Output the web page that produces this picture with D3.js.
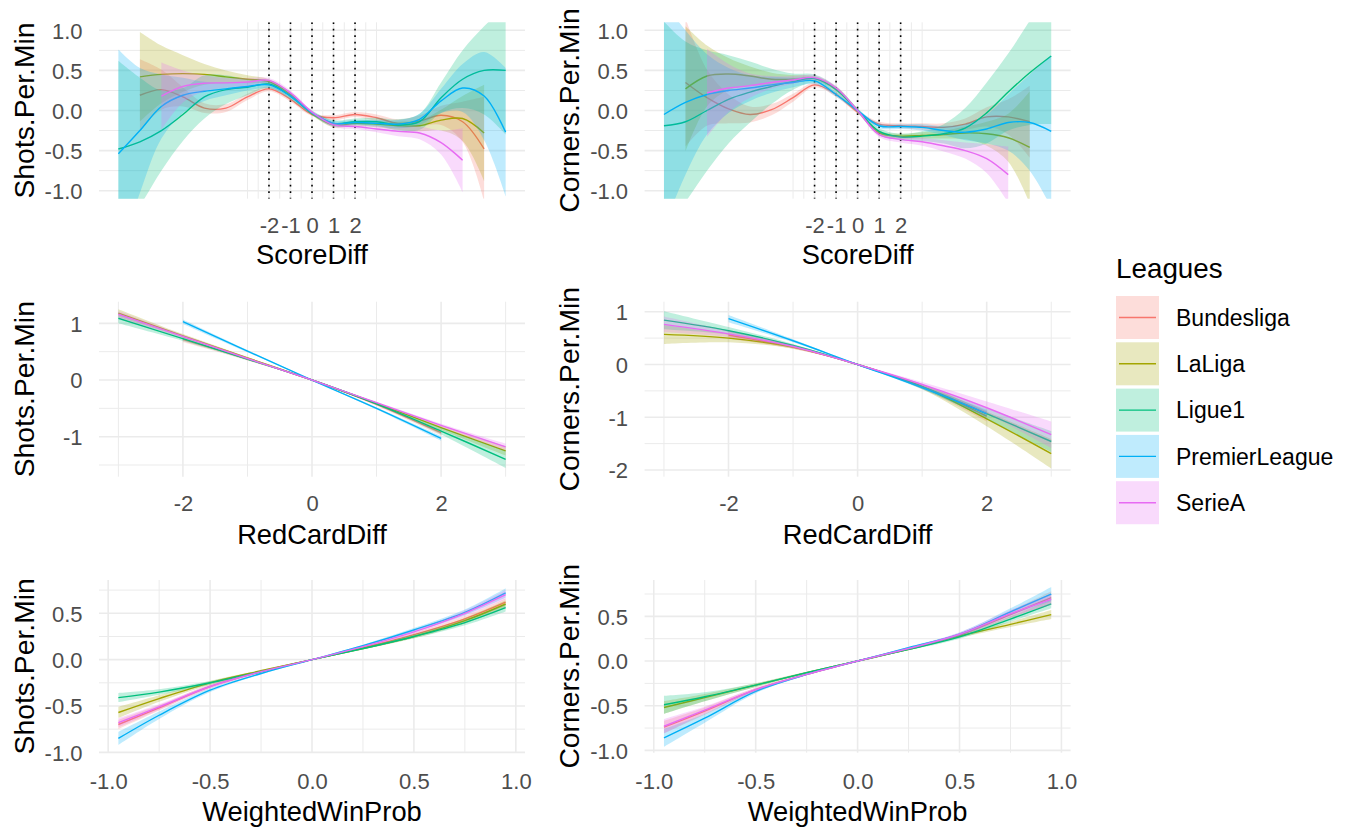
<!DOCTYPE html>
<html>
<head>
<meta charset="utf-8">
<script src="https://cdn.jsdelivr.net/npm/d3@7"></script>
<style>
  body { margin: 0; background: #fff; }
  text { font-family: "Liberation Sans", Arial, sans-serif; }
</style>
</head>
<body>
<svg id="chart" width="1355" height="831"></svg>
<script>
// leagues and ggplot hue colours
const leagues = ["Bundesliga", "LaLiga", "Ligue1", "PremierLeague", "SerieA"];
const leagueColors = ["#F8766D", "#A3A500", "#00BF7D", "#00B0F6", "#E76BF3"];

// ScoreDiff: first and last value seen per league
const scoreRange = [[-8, 8], [-8, 8], [-9, 9], [-9, 9], [-7, 7]];
const shotsByScore = [
  [0.19, 0.26, 0.17, 0.03, 0.03, 0.17, 0.27, 0.14, -0.05, -0.09, -0.05, -0.09, -0.16, -0.13, -0.06, -0.14, -0.48],
  [0.42, 0.45, 0.46, 0.45, 0.42, 0.39, 0.36, 0.2, -0.04, -0.18, -0.16, -0.17, -0.19, -0.19, -0.12, -0.1, -0.28],
  [-0.48, -0.39, -0.25, -0.05, 0.17, 0.26, 0.29, 0.33, 0.18, -0.03, -0.16, -0.14, -0.14, -0.18, -0.14, 0.16, 0.39, 0.5, 0.5],
  [-0.54, -0.25, 0.05, 0.19, 0.24, 0.27, 0.3, 0.32, 0.18, -0.03, -0.16, -0.15, -0.16, -0.17, -0.11, 0.12, 0.28, 0.18, -0.27],
  [0.18, 0.3, 0.34, 0.345, 0.355, 0.375, 0.22, -0.02, -0.18, -0.2, -0.23, -0.26, -0.28, -0.4, -0.62]
];
const shotsByScoreSE = [
  [0.45, 0.25, 0.12, 0.06, 0.05, 0.04, 0.03, 0.03, 0.02, 0.03, 0.03, 0.04, 0.05, 0.07, 0.12, 0.25, 0.65],
  [0.56, 0.36, 0.23, 0.13, 0.08, 0.05, 0.03, 0.03, 0.02, 0.03, 0.03, 0.04, 0.05, 0.07, 0.13, 0.28, 0.6],
  [1.1, 0.8, 0.5, 0.33, 0.27, 0.18, 0.1, 0.05, 0.04, 0.03, 0.04, 0.04, 0.05, 0.07, 0.1, 0.19, 0.36, 0.55, 0.8],
  [1.3, 0.78, 0.4, 0.22, 0.12, 0.08, 0.05, 0.04, 0.03, 0.02, 0.03, 0.03, 0.04, 0.05, 0.07, 0.15, 0.3, 0.55, 0.8],
  [0.42, 0.2, 0.1, 0.06, 0.05, 0.03, 0.03, 0.02, 0.03, 0.03, 0.04, 0.06, 0.08, 0.15, 0.4]
];
const cornersByScore = [
  [0.35, 0.16, 0.02, -0.05, 0.01, 0.16, 0.32, 0.2, -0.02, -0.17, -0.19, -0.2, -0.21, -0.17, -0.08, -0.08, -0.14],
  [0.27, 0.43, 0.455, 0.43, 0.39, 0.39, 0.4, 0.27, 0.0, -0.28, -0.32, -0.31, -0.3, -0.28, -0.29, -0.34, -0.46],
  [-0.19, -0.14, 0.0, 0.14, 0.23, 0.3, 0.36, 0.4, 0.26, 0.0, -0.26, -0.33, -0.32, -0.29, -0.22, -0.03, 0.23, 0.47, 0.68],
  [-0.05, 0.1, 0.2, 0.25, 0.28, 0.32, 0.35, 0.37, 0.2, 0.0, -0.19, -0.2, -0.21, -0.25, -0.27, -0.23, -0.15, -0.15, -0.26],
  [0.22, 0.28, 0.31, 0.35, 0.38, 0.41, 0.28, 0.0, -0.3, -0.36, -0.39, -0.44, -0.5, -0.6, -0.8]
];
const cornersByScoreSE = [
  [0.8, 0.35, 0.18, 0.1, 0.07, 0.05, 0.03, 0.03, 0.02, 0.03, 0.03, 0.04, 0.05, 0.07, 0.12, 0.22, 0.45],
  [0.78, 0.38, 0.2, 0.12, 0.08, 0.05, 0.03, 0.03, 0.02, 0.03, 0.03, 0.04, 0.05, 0.08, 0.15, 0.3, 0.7],
  [1.3, 1.0, 0.75, 0.55, 0.38, 0.22, 0.1, 0.05, 0.04, 0.03, 0.04, 0.04, 0.06, 0.12, 0.25, 0.38, 0.48, 0.65, 0.85],
  [1.4, 0.9, 0.5, 0.28, 0.16, 0.1, 0.06, 0.04, 0.03, 0.02, 0.03, 0.03, 0.04, 0.06, 0.1, 0.18, 0.35, 0.6, 0.95],
  [0.55, 0.3, 0.15, 0.08, 0.05, 0.03, 0.03, 0.02, 0.03, 0.04, 0.05, 0.07, 0.1, 0.18, 0.35]
];

// RedCardDiff
const redRange = [[-2, 2], [-3, 3], [-3, 3], [-2, 2], [-3, 3]];
const shotsByRed = [
  [0.72, 0.37, 0, -0.43, -0.93],
  [1.18, 0.78, 0.39, 0, -0.41, -0.84, -1.25],
  [1.09, 0.73, 0.37, 0, -0.42, -0.9, -1.4],
  [1.03, 0.51, 0, -0.5, -1.03],
  [1.16, 0.77, 0.38, 0, -0.4, -0.8, -1.18]
];
const shotsByRedSE = [
  [0.05, 0.025, 0.005, 0.025, 0.05],
  [0.07, 0.03, 0.015, 0.005, 0.015, 0.04, 0.08],
  [0.09, 0.04, 0.02, 0.005, 0.02, 0.06, 0.15],
  [0.04, 0.02, 0.005, 0.02, 0.04],
  [0.06, 0.03, 0.015, 0.005, 0.015, 0.03, 0.06]
];
const cornersByRed = [
  [0.56, 0.33, 0, -0.42, -0.98],
  [0.57, 0.5, 0.33, 0, -0.42, -1.03, -1.69],
  [0.84, 0.64, 0.36, 0, -0.42, -0.93, -1.46],
  [0.87, 0.45, 0, -0.44, -0.93],
  [0.76, 0.58, 0.34, 0, -0.38, -0.82, -1.33]
];
const cornersByRedSE = [
  [0.07, 0.03, 0.005, 0.04, 0.1],
  [0.18, 0.08, 0.03, 0.005, 0.05, 0.14, 0.28],
  [0.17, 0.07, 0.03, 0.005, 0.04, 0.1, 0.2],
  [0.07, 0.03, 0.005, 0.03, 0.07],
  [0.15, 0.06, 0.03, 0.005, 0.05, 0.12, 0.25]
];

// WeightedWinProb
const winProbX = [-0.95, -0.75, -0.5, -0.25, 0, 0.25, 0.5, 0.75, 0.95];
const shotsByWin = [
  [-0.7, -0.52, -0.29, -0.13, 0, 0.13, 0.27, 0.44, 0.62],
  [-0.57, -0.42, -0.25, -0.12, 0, 0.12, 0.25, 0.42, 0.6],
  [-0.41, -0.35, -0.25, -0.13, 0, 0.12, 0.25, 0.4, 0.56],
  [-0.85, -0.6, -0.33, -0.15, 0, 0.15, 0.32, 0.51, 0.72],
  [-0.68, -0.51, -0.29, -0.13, 0, 0.14, 0.3, 0.5, 0.7]
];
const shotsByWinSE = [
  [0.05, 0.03, 0.02, 0.01, 0.005, 0.01, 0.02, 0.03, 0.04],
  [0.06, 0.035, 0.02, 0.01, 0.005, 0.01, 0.02, 0.03, 0.04],
  [0.05, 0.03, 0.02, 0.01, 0.005, 0.01, 0.02, 0.03, 0.04],
  [0.07, 0.04, 0.02, 0.01, 0.005, 0.01, 0.02, 0.03, 0.05],
  [0.05, 0.03, 0.02, 0.01, 0.005, 0.01, 0.02, 0.03, 0.05]
];
const cornersByWin = [
  [-0.74, -0.56, -0.32, -0.15, 0, 0.14, 0.29, 0.52, 0.71],
  [-0.52, -0.41, -0.27, -0.13, 0, 0.13, 0.28, 0.41, 0.52],
  [-0.49, -0.4, -0.27, -0.13, 0, 0.13, 0.27, 0.47, 0.64],
  [-0.86, -0.64, -0.34, -0.15, 0, 0.15, 0.3, 0.55, 0.75],
  [-0.73, -0.55, -0.32, -0.15, 0, 0.14, 0.3, 0.53, 0.69]
];
const cornersByWinSE = [
  [0.07, 0.04, 0.02, 0.01, 0.005, 0.01, 0.02, 0.04, 0.07],
  [0.07, 0.04, 0.02, 0.01, 0.005, 0.01, 0.02, 0.03, 0.05],
  [0.1, 0.05, 0.02, 0.01, 0.005, 0.01, 0.02, 0.03, 0.05],
  [0.1, 0.05, 0.02, 0.01, 0.005, 0.01, 0.02, 0.04, 0.08],
  [0.08, 0.04, 0.02, 0.01, 0.005, 0.01, 0.02, 0.04, 0.06]
];

// ---- layout ----
const svg = d3.select("#chart");
const colLeft = [99, 644.6];
const panelW = 426;
const rowTop = [22.3, 301.7, 580];
const panelH = [176.4, 175, 172.7];
const tickGap = [34, 34, 36.6];     // panel bottom -> tick label baseline
const titleGap = [65.6, 67, 68];    // panel bottom -> axis title baseline
const tickSize = 22, xTitleSize = 27.3, yTitleSize = 28.3;
const fmt1 = v => d3.format(".1f")(v).replace("\u2212", "-");
const fmt0 = v => d3.format("d")(v).replace("\u2212", "-");

const scoreX = scoreRange.map(r => d3.range(r[0], r[1] + 1));
const redX = redRange.map(r => d3.range(r[0], r[1] + 1));
const winX = leagues.map(() => winProbX);

const panels = [
  {col: 0, row: 0, xs: scoreX, fit: shotsByScore, se: shotsByScoreSE, xDomain: [-9.9, 9.9], yDomain: [-1.1, 1.1],
   xTicks: [-2, -1, 0, 1, 2], xMinor: [-3, -2.5, -1.5, -0.5, 0.5, 1.5, 2.5, 3], yTicks: [-1, -0.5, 0, 0.5, 1],
   yMinor: [-0.75, -0.25, 0.25, 0.75], xFmt: fmt0, yFmt: fmt1, xTitle: "ScoreDiff", yTitle: "Shots.Per.Min", vlines: true},
  {col: 1, row: 0, xs: scoreX, fit: cornersByScore, se: cornersByScoreSE, xDomain: [-9.9, 9.9], yDomain: [-1.1, 1.1],
   xTicks: [-2, -1, 0, 1, 2], xMinor: [-3, -2.5, -1.5, -0.5, 0.5, 1.5, 2.5, 3], yTicks: [-1, -0.5, 0, 0.5, 1],
   yMinor: [-0.75, -0.25, 0.25, 0.75], xFmt: fmt0, yFmt: fmt1, xTitle: "ScoreDiff", yTitle: "Corners.Per.Min", vlines: true},
  {col: 0, row: 1, xs: redX, fit: shotsByRed, se: shotsByRedSE, xDomain: [-3.3, 3.3], yDomain: [-1.706, 1.382],
   xTicks: [-2, 0, 2], xMinor: [-3, -1, 1, 3], yTicks: [-1, 0, 1], yMinor: [-1.5, -0.5, 0.5],
   xFmt: fmt0, yFmt: fmt0, xTitle: "RedCardDiff", yTitle: "Shots.Per.Min"},
  {col: 1, row: 1, xs: redX, fit: cornersByRed, se: cornersByRedSE, xDomain: [-3.3, 3.3], yDomain: [-2.127, 1.19],
   xTicks: [-2, 0, 2], xMinor: [-3, -1, 1, 3], yTicks: [-2, -1, 0, 1], yMinor: [-1.5, -0.5, 0.5],
   xFmt: fmt0, yFmt: fmt0, xTitle: "RedCardDiff", yTitle: "Corners.Per.Min"},
  {col: 0, row: 2, xs: winX, fit: shotsByWin, se: shotsByWinSE, xDomain: [-1.045, 1.045], yDomain: [-1.004, 0.859],
   xTicks: [-1, -0.5, 0, 0.5, 1], xMinor: [-0.75, -0.25, 0.25, 0.75], yTicks: [-1, -0.5, 0, 0.5],
   yMinor: [-0.75, -0.25, 0.25, 0.75], xFmt: fmt1, yFmt: fmt1, xTitle: "WeightedWinProb", yTitle: "Shots.Per.Min"},
  {col: 1, row: 2, xs: winX, fit: cornersByWin, se: cornersByWinSE, xDomain: [-1.045, 1.045], yDomain: [-1.026, 0.907],
   xTicks: [-1, -0.5, 0, 0.5, 1], xMinor: [-0.75, -0.25, 0.25, 0.75], yTicks: [-1, -0.5, 0, 0.5],
   yMinor: [-0.75, -0.25, 0.25, 0.75], xFmt: fmt1, yFmt: fmt1, xTitle: "WeightedWinProb", yTitle: "Corners.Per.Min"}
];

panels.forEach((p, k) => {
  const left = colLeft[p.col], top = rowTop[p.row], h = panelH[p.row];
  const x = d3.scaleLinear().domain(p.xDomain).range([left, left + panelW]);
  const y = d3.scaleLinear().domain(p.yDomain).range([top + h, top]);
  const g = svg.append("g");

  // grid lines (theme_minimal)
  const grid = g.append("g").attr("stroke", "#EBEBEB");
  grid.selectAll(".vminor").data(p.xMinor).enter().append("line")
    .attr("x1", d => x(d)).attr("x2", d => x(d)).attr("y1", top).attr("y2", top + h).attr("stroke-width", 1);
  grid.selectAll(".hminor").data(p.yMinor).enter().append("line")
    .attr("x1", left).attr("x2", left + panelW).attr("y1", d => y(d)).attr("y2", d => y(d)).attr("stroke-width", 1);
  grid.selectAll(".vmajor").data(p.xTicks).enter().append("line")
    .attr("x1", d => x(d)).attr("x2", d => x(d)).attr("y1", top).attr("y2", top + h).attr("stroke-width", 1.6);
  grid.selectAll(".hmajor").data(p.yTicks).enter().append("line")
    .attr("x1", left).attr("x2", left + panelW).attr("y1", d => y(d)).attr("y2", d => y(d)).attr("stroke-width", 1.6);

  svg.append("clipPath").attr("id", "clip" + k).append("rect")
    .attr("x", left).attr("y", top).attr("width", panelW).attr("height", h);
  const plot = g.append("g").attr("clip-path", `url(#clip${k})`);

  if (p.vlines) {
    plot.selectAll(".vl").data(p.xTicks).enter().append("line")
      .attr("x1", d => x(d)).attr("x2", d => x(d)).attr("y1", top).attr("y2", top + h)
      .attr("stroke", "#000").attr("stroke-width", 1.6).attr("stroke-dasharray", "1.6,4.9");
  }

  const curve = d3.curveCatmullRom.alpha(0.5);
  const area = d3.area().curve(curve)
    .x(d => x(d.x)).y0(d => y(d.y - d.se)).y1(d => y(d.y + d.se));
  const line = d3.line().curve(curve).x(d => x(d.x)).y(d => y(d.y));

  leagues.forEach((name, i) => {
    const pts = p.xs[i].map((xv, j) => ({x: xv, y: p.fit[i][j], se: p.se[i][j]}));
    plot.append("path").datum(pts).attr("d", area)
      .attr("fill", leagueColors[i]).attr("fill-opacity", 0.25);
    plot.append("path").datum(pts).attr("d", line)
      .attr("fill", "none").attr("stroke", leagueColors[i]).attr("stroke-width", 1.4);
  });

  // axes
  const xAxis = g.append("g").attr("transform", `translate(0,${top + h})`)
    .call(d3.axisBottom(x).tickValues(p.xTicks).tickSize(0).tickFormat(p.xFmt));
  xAxis.select(".domain").remove();
  xAxis.selectAll("text").attr("y", tickGap[p.row]).attr("dy", null)
    .attr("font-size", tickSize).attr("fill", "#4D4D4D").style("font-family", "Liberation Sans, Arial, sans-serif");

  const yAxis = g.append("g").attr("transform", `translate(${left},0)`)
    .call(d3.axisLeft(y).tickValues(p.yTicks).tickSize(0).tickFormat(p.yFmt));
  yAxis.select(".domain").remove();
  yAxis.selectAll("text").attr("x", -16.5).attr("dy", "0.36em")
    .attr("font-size", tickSize).attr("fill", "#4D4D4D").style("font-family", "Liberation Sans, Arial, sans-serif");

  g.append("text").attr("x", left + panelW / 2).attr("y", top + h + titleGap[p.row])
    .attr("text-anchor", "middle").attr("font-size", xTitleSize).attr("fill", "#000").text(p.xTitle);
  const ty = top + h / 2, tx = p.col === 0 ? 34 : 578.6;
  g.append("text").attr("transform", `translate(${tx},${ty}) rotate(-90)`)
    .attr("text-anchor", "middle").attr("font-size", yTitleSize).attr("fill", "#000").text(p.yTitle);
});

// legend
const legend = svg.append("g").attr("transform", "translate(1116,0)");
legend.append("text").attr("x", 0).attr("y", 278).attr("font-size", 27.8).attr("fill", "#000").text("Leagues");
leagues.forEach((name, i) => {
  const t = 296 + i * 46.3;
  legend.append("rect").attr("x", 0).attr("y", t).attr("width", 43).attr("height", 43)
    .attr("fill", leagueColors[i]).attr("fill-opacity", 0.25);
  legend.append("line").attr("x1", 3).attr("x2", 40).attr("y1", t + 21.5).attr("y2", t + 21.5)
    .attr("stroke", leagueColors[i]).attr("stroke-width", 1.4);
  legend.append("text").attr("x", 60).attr("y", t + 21.5).attr("dy", "0.36em")
    .attr("font-size", 23).attr("fill", "#000").text(name);
});
</script>
</body>
</html>
